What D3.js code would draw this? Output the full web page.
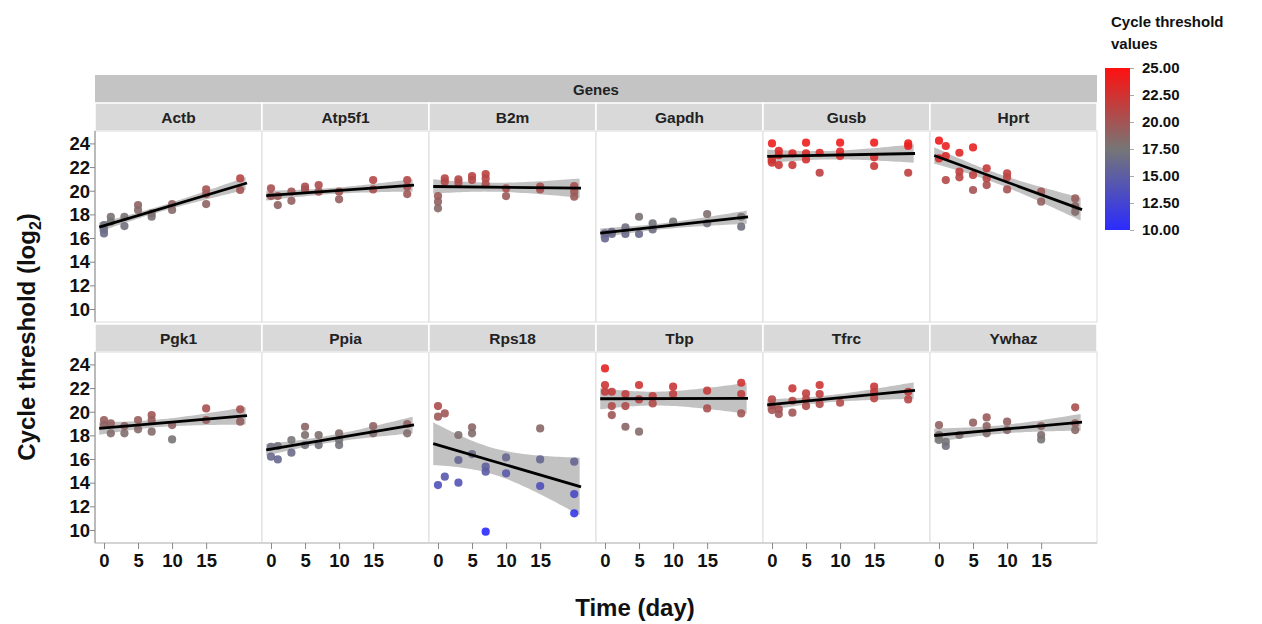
<!DOCTYPE html>
<html>
<head>
<meta charset="utf-8">
<script src="https://cdn.jsdelivr.net/npm/d3@7"></script>
<style>
  body { margin: 0; background: #fff; }
  svg { font-family: "Liberation Sans", Arial, sans-serif; }
</style>
</head>
<body>
<svg id="chart" width="1262" height="624"></svg>
<script>
// sampling days and gene order
const days = [0, 1, 3, 5, 7, 10, 15, 20];
const genes = ['Actb', 'Atp5f1', 'B2m', 'Gapdh', 'Gusb', 'Hprt',
               'Pgk1', 'Ppia', 'Rps18', 'Tbp', 'Tfrc', 'Ywhaz'];

// replicate Ct values per day
const actb   = [[17.10,16.73,16.39],[17.80,17.38],[17.80,17.01],[18.79,18.37],[18.08,17.80],[18.87,18.37],[20.11,19.72,18.87],[21.04,20.06]];
const atp5f1 = [[20.20,19.55],[19.55,18.79],[19.92,19.15],[20.34,20.11],[20.48,19.92],[19.92,19.27],[20.90,20.11],[20.90,20.34,19.72]];
const b2m    = [[19.55,19.07,18.51],[21.04,20.76],[20.96,20.68],[21.24,20.90],[21.41,21.04,20.56],[20.20,19.55],[20.34,20.11],[20.39,19.92,19.49]];
const gapdh  = [[16.39,15.97],[16.53,16.34],[16.90,16.34],[17.80,16.34],[17.24,16.73],[17.38],[18.03,17.24],[17.80,16.96]];
const gusb   = [[24.00,22.59,22.37],[23.38,23.01,22.17],[23.16,22.17],[24.06,23.16,22.65],[23.21,21.52],[24.06,23.30,22.93],[24.06,22.82,22.09],[24.00,23.78,21.52]];
const hprt   = [[24.23,22.73],[23.78,22.93,20.90],[23.21,21.61,21.13],[23.66,21.32,20.06],[21.89,21.04,20.48],[21.47,21.13,20.11],[19.92,19.07],[19.35,18.70,18.22]];
const pgk1   = [[19.30,18.87],[19.02,18.17],[18.79,18.17],[19.30,18.51],[19.72,19.30,18.31],[18.87,17.66],[20.28,19.30],[20.20,19.16]];
const ppia   = [[17.04,16.20],[17.10,15.97],[17.61,16.54],[18.73,18.03,17.18],[18.03,17.18],[18.17,17.61,17.18],[18.79,18.17],[18.96,18.17]];
const rps18  = [[20.48,19.58,13.80],[19.86,14.51],[18.03,15.92,14.00],[18.68,18.17,16.42],[15.35,14.93,9.86],[16.14,14.79],[18.59,15.97,13.72],[15.78,13.04,11.41]];
const tbp    = [[23.66,22.26,21.69],[21.69,20.48,19.72],[21.49,20.48,18.73],[22.26,21.04,18.31],[21.33,20.70],[22.12,21.49],[21.78,20.28],[22.45,21.49,19.86]];
const tfrc   = [[21.04,20.56,20.14],[20.20,19.80],[21.97,20.93,19.92],[21.55,21.04,20.48],[22.26,21.49,20.65],[20.76],[22.12,21.69,21.13],[21.69,21.04]];
const ywhaz  = [[18.87,18.03,17.61],[17.46,17.10],[18.03],[19.07],[19.52,18.79,18.17],[19.16,18.45],[18.79,18.03,17.66],[20.37,19.02,18.45]];
const geneValues = [actb, atp5f1, b2m, gapdh, gusb, hprt, pgk1, ppia, rps18, tbp, tfrc, ywhaz];

const yTicks = [10, 12, 14, 16, 18, 20, 22, 24];
const xTicks = [0, 5, 10, 15];
const legendTicks = [10, 12.5, 15, 17.5, 20, 22.5, 25];
const fitRange = [-0.7, 21];

const svg = d3.select('#chart');
const left0 = 95, panelW = 167, plotH = 191;
const rowTop = [131, 352];
const stripH = 28;

const x = d3.scaleLinear().domain([-1.32, 23.2]).range([0, panelW]);
const y = d3.scaleLinear().domain([8.9, 25.05]).range([plotH, 0]);
const color = d3.scaleLinear().domain([10, 17.5, 25]).range(['#2b2bff', '#767676', '#ff1010']);

// "Genes" header strip
svg.append('rect').attr('x', left0).attr('y', 75).attr('width', panelW * 6).attr('height', 28).attr('fill', '#c4c4c4');
svg.append('text').attr('x', left0 + panelW * 3).attr('y', 95).attr('text-anchor', 'middle')
  .attr('font-size', 15).attr('font-weight', 'bold').attr('fill', '#222').text('Genes');

function fit(pts) {
  const n = pts.length;
  const mx = d3.mean(pts, d => d.day), my = d3.mean(pts, d => d.ct);
  let sxx = 0, sxy = 0;
  pts.forEach(d => { sxx += (d.day - mx) ** 2; sxy += (d.day - mx) * (d.ct - my); });
  const b = sxy / sxx, a = my - b * mx;
  let sse = 0;
  pts.forEach(d => { sse += (d.ct - a - b * d.day) ** 2; });
  const s = Math.sqrt(sse / (n - 2));
  const t = 2.05;
  const band = d3.range(fitRange[0], fitRange[1] + 0.01, 0.5).map(d => {
    const se = s * Math.sqrt(1 / n + (d - mx) ** 2 / sxx);
    const f = a + b * d;
    return { day: d, lo: f - t * se, hi: f + t * se };
  });
  return { a, b, band };
}

genes.forEach((gene, i) => {
  const row = Math.floor(i / 6), col = i % 6;
  const px = left0 + col * panelW, py = rowTop[row];

  const pts = [];
  geneValues[i].forEach((reps, k) => reps.forEach(v => pts.push({ day: days[k], ct: v })));

  // strip
  svg.append('rect').attr('x', px).attr('y', py - stripH).attr('width', panelW).attr('height', stripH)
    .attr('fill', '#d9d9d9').attr('stroke', '#fff').attr('stroke-width', 1.5);
  svg.append('text').attr('x', px + panelW / 2).attr('y', py - 8).attr('text-anchor', 'middle')
    .attr('font-size', 15.5).attr('font-weight', 'bold').attr('fill', '#222').text(gene);

  const g = svg.append('g').attr('transform', `translate(${px},${py})`);
  g.append('rect').attr('width', panelW).attr('height', plotH).attr('fill', '#fff')
    .attr('stroke', '#dcdcdc').attr('stroke-width', 1);

  const f = fit(pts);
  g.append('path').datum(f.band)
    .attr('d', d3.area().x(d => x(d.day)).y0(d => y(d.lo)).y1(d => y(d.hi)))
    .attr('fill', '#a8a8a8').attr('opacity', 0.7);

  g.selectAll('circle').data(pts).join('circle')
    .attr('cx', d => x(d.day)).attr('cy', d => y(d.ct)).attr('r', 4.1)
    .attr('fill', d => color(d.ct)).attr('opacity', 0.9);

  g.append('line')
    .attr('x1', x(fitRange[0])).attr('y1', y(f.a + f.b * fitRange[0]))
    .attr('x2', x(fitRange[1])).attr('y2', y(f.a + f.b * fitRange[1]))
    .attr('stroke', '#000').attr('stroke-width', 2.8);

  // y axis on first column
  if (col === 0) {
    const ya = g.append('g');
    ya.call(d3.axisLeft(y).tickValues(d3.range(9, 26, 1)).tickSize(4).tickFormat(''));
    ya.call(d3.axisLeft(y).tickValues(yTicks).tickSize(5).tickFormat(d3.format('d')));
    ya.selectAll('.domain').attr('stroke', '#888');
    ya.selectAll('line').attr('stroke', '#888');
    ya.selectAll('text').attr('font-size', 18.5).attr('font-weight', 'bold').attr('fill', '#111')
      .attr('x', -5).attr('dy', '0.34em');
    ya.select('.domain').attr('d', `M0,0V${plotH}`);
  }

  // x axis on bottom row
  if (row === 1) {
    const xa = g.append('g').attr('transform', `translate(0,${plotH})`);
    xa.call(d3.axisBottom(x).tickValues(d3.range(0, 22.6, 2.5)).tickSize(5).tickFormat(''));
    xa.call(d3.axisBottom(x).tickValues(xTicks).tickSize(6).tickFormat(d3.format('d')));
    xa.selectAll('line').attr('stroke', '#888');
    xa.select('.domain').attr('stroke', '#bbb').attr('d', `M0,0H${panelW}`);
    xa.selectAll('text').attr('font-size', 18.5).attr('font-weight', 'bold').attr('fill', '#111')
      .attr('y', 11);
  }
});

// axis titles
svg.append('text').attr('transform', 'translate(35,337) rotate(-90)').attr('text-anchor', 'middle')
  .attr('font-size', 24).attr('font-weight', 'bold').attr('fill', '#111')
  .html('Cycle threshold (log<tspan font-size="16" dy="6">2</tspan><tspan dy="-6">)</tspan>');
svg.append('text').attr('x', 635).attr('y', 616).attr('text-anchor', 'middle')
  .attr('font-size', 24).attr('font-weight', 'bold').attr('fill', '#111').text('Time (day)');

// colour legend
const defs = svg.append('defs');
const grad = defs.append('linearGradient').attr('id', 'ctgrad').attr('x1', 0).attr('y1', 1).attr('x2', 0).attr('y2', 0);
legendTicks.forEach(v => grad.append('stop').attr('offset', (v - 10) / 15).attr('stop-color', color(v)));
const ly = d3.scaleLinear().domain([10, 25]).range([230, 68]);
svg.append('rect').attr('x', 1105).attr('y', 68).attr('width', 25).attr('height', 162).attr('fill', 'url(#ctgrad)');
const la = svg.append('g').attr('transform', 'translate(1130,0)')
  .call(d3.axisRight(ly).tickValues(legendTicks).tickSize(4).tickFormat(d3.format('.2f')));
la.select('.domain').remove();
la.selectAll('line').attr('stroke', '#aaa');
la.selectAll('text').attr('font-size', 15).attr('font-weight', 'bold').attr('fill', '#111').attr('x', 12);
svg.append('text').attr('x', 1111).attr('y', 27).attr('font-size', 15).attr('font-weight', 'bold')
  .attr('fill', '#111').text('Cycle threshold');
svg.append('text').attr('x', 1111).attr('y', 49).attr('font-size', 15).attr('font-weight', 'bold')
  .attr('fill', '#111').text('values');
</script>
</body>
</html>
